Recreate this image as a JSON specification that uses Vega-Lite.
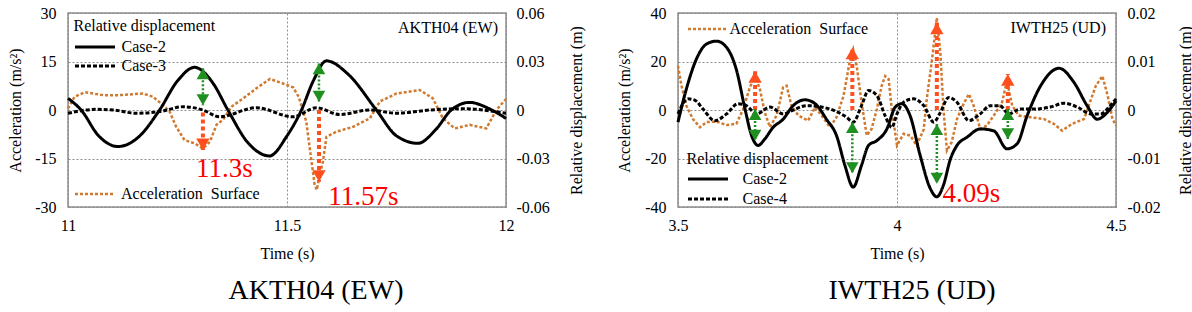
{
  "$schema": "https://vega.github.io/schema/vega-lite/v6.json",
  "padding": {"left": 6, "top": 4, "right": 2, "bottom": 2},
  "datasets": {
    "accL": [
      {"t":11.000,"acc":0.5},{"t":11.015,"acc":4.1},{"t":11.038,"acc":5.5},{"t":11.080,"acc":4.6},{"t":11.118,"acc":4.6},{"t":11.171,"acc":5.1},{"t":11.194,"acc":4.1},{"t":11.217,"acc":1.5},{"t":11.232,"acc":-0.5},{"t":11.247,"acc":-5.2},{"t":11.266,"acc":-9.3},{"t":11.289,"acc":-10.3},{"t":11.308,"acc":-11.9},{"t":11.324,"acc":-9.8},{"t":11.339,"acc":-4.6},{"t":11.354,"acc":-3.0},{"t":11.373,"acc":1.0},{"t":11.400,"acc":3.6},{"t":11.430,"acc":6.7},{"t":11.461,"acc":9.6},{"t":11.491,"acc":8.2},{"t":11.514,"acc":7.0},{"t":11.527,"acc":4.0},{"t":11.537,"acc":-0.5},{"t":11.544,"acc":-3.6},{"t":11.552,"acc":-11.9},{"t":11.563,"acc":-23.0},{"t":11.568,"acc":-24.7},{"t":11.575,"acc":-20.0},{"t":11.582,"acc":-16.0},{"t":11.590,"acc":-8.3},{"t":11.613,"acc":-6.7},{"t":11.651,"acc":-5.2},{"t":11.689,"acc":-2.6},{"t":11.712,"acc":2.6},{"t":11.750,"acc":5.1},{"t":11.803,"acc":6.2},{"t":11.833,"acc":3.6},{"t":11.856,"acc":-2.6},{"t":11.883,"acc":-5.7},{"t":11.917,"acc":-4.6},{"t":11.955,"acc":-5.7},{"t":11.978,"acc":0.0},{"t":12.000,"acc":3.4}
    ],
    "dispL": [
      {"t":11.000,"d":0.0072,"case":"Case-2"},{"t":11.030,"d":0.0,"case":"Case-2"},{"t":11.070,"d":-0.016,"case":"Case-2"},{"t":11.114,"d":-0.0226,"case":"Case-2"},{"t":11.160,"d":-0.017,"case":"Case-2"},{"t":11.209,"d":0.0,"case":"Case-2"},{"t":11.250,"d":0.018,"case":"Case-2"},{"t":11.289,"d":0.0264,"case":"Case-2"},{"t":11.330,"d":0.017,"case":"Case-2"},{"t":11.365,"d":0.0,"case":"Case-2"},{"t":11.410,"d":-0.020,"case":"Case-2"},{"t":11.460,"d":-0.0284,"case":"Case-2"},{"t":11.500,"d":-0.016,"case":"Case-2"},{"t":11.533,"d":0.0,"case":"Case-2"},{"t":11.560,"d":0.018,"case":"Case-2"},{"t":11.590,"d":0.0304,"case":"Case-2"},{"t":11.640,"d":0.022,"case":"Case-2"},{"t":11.704,"d":0.0,"case":"Case-2"},{"t":11.750,"d":-0.016,"case":"Case-2"},{"t":11.799,"d":-0.0206,"case":"Case-2"},{"t":11.840,"d":-0.012,"case":"Case-2"},{"t":11.875,"d":0.0,"case":"Case-2"},{"t":11.917,"d":0.0047,"case":"Case-2"},{"t":11.960,"d":0.001,"case":"Case-2"},{"t":12.000,"d":-0.0052,"case":"Case-2"},
      {"t":11.000,"d":-0.002,"case":"Case-3"},{"t":11.065,"d":0.0004,"case":"Case-3"},{"t":11.103,"d":0.0,"case":"Case-3"},{"t":11.155,"d":-0.002,"case":"Case-3"},{"t":11.209,"d":-0.001,"case":"Case-3"},{"t":11.263,"d":0.002,"case":"Case-3"},{"t":11.308,"d":0.0,"case":"Case-3"},{"t":11.346,"d":-0.0042,"case":"Case-3"},{"t":11.430,"d":0.0014,"case":"Case-3"},{"t":11.514,"d":-0.0042,"case":"Case-3"},{"t":11.567,"d":0.0014,"case":"Case-3"},{"t":11.620,"d":-0.0028,"case":"Case-3"},{"t":11.689,"d":0.0,"case":"Case-3"},{"t":11.750,"d":-0.002,"case":"Case-3"},{"t":11.826,"d":0.0,"case":"Case-3"},{"t":11.902,"d":0.0008,"case":"Case-3"},{"t":12.000,"d":-0.002,"case":"Case-3"}
    ],
    "redL": [{"t":11.308,"from":-0.8,"to":-12.4},{"t":11.573,"from":0.0,"to":-22.2}],
    "greenL": [{"t":11.308,"hi":0.0258,"lo":0.003},{"t":11.573,"hi":0.0288,"lo":0.0052}],
    "annL": [{"t":11.292,"acc":-20.6,"label":"11.3s"},{"t":11.594,"acc":-29.4,"label":"11.57s"}],
    "accR": [
      {"t":3.500,"acc":18.2},{"t":3.508,"acc":10},{"t":3.519,"acc":1.8},{"t":3.534,"acc":-3.7},{"t":3.550,"acc":-7.1},{"t":3.565,"acc":-5},{"t":3.588,"acc":-4.8},{"t":3.611,"acc":-6.2},{"t":3.633,"acc":-5.7},{"t":3.649,"acc":0.4},{"t":3.664,"acc":9.3},{"t":3.676,"acc":14},{"t":3.687,"acc":8.6},{"t":3.698,"acc":-0.9},{"t":3.710,"acc":-7.1},{"t":3.725,"acc":-2.3},{"t":3.740,"acc":9.3},{"t":3.748,"acc":10},{"t":3.759,"acc":1.8},{"t":3.775,"acc":-2.3},{"t":3.797,"acc":-4.4},{"t":3.813,"acc":1.1},{"t":3.828,"acc":-2.3},{"t":3.847,"acc":-7.1},{"t":3.862,"acc":-3},{"t":3.878,"acc":5.9},{"t":3.893,"acc":20.9},{"t":3.900,"acc":25},{"t":3.908,"acc":18.2},{"t":3.919,"acc":3.2},{"t":3.931,"acc":-10.5},{"t":3.942,"acc":-7.8},{"t":3.954,"acc":0.4},{"t":3.965,"acc":10},{"t":3.973,"acc":14},{"t":3.981,"acc":12.7},{"t":3.988,"acc":0.4},{"t":4.000,"acc":-14.6},{"t":4.015,"acc":-9.8},{"t":4.030,"acc":-10.5},{"t":4.045,"acc":-14.6},{"t":4.061,"acc":-8},{"t":4.068,"acc":4.5},{"t":4.080,"acc":20.9},{"t":4.091,"acc":38},{"t":4.099,"acc":23.7},{"t":4.106,"acc":0.4},{"t":4.114,"acc":-16.7},{"t":4.125,"acc":-13.2},{"t":4.137,"acc":-3.7},{"t":4.152,"acc":2.5},{"t":4.164,"acc":6.6},{"t":4.175,"acc":1.8},{"t":4.190,"acc":-7.8},{"t":4.205,"acc":-6.4},{"t":4.221,"acc":-2.3},{"t":4.240,"acc":3.2},{"t":4.251,"acc":12},{"t":4.263,"acc":1.8},{"t":4.278,"acc":-2.3},{"t":4.305,"acc":-3},{"t":4.335,"acc":-3.7},{"t":4.358,"acc":-5.7},{"t":4.377,"acc":-8.5},{"t":4.400,"acc":-5.7},{"t":4.427,"acc":-3.7},{"t":4.454,"acc":10},{"t":4.469,"acc":14},{"t":4.481,"acc":5.9},{"t":4.492,"acc":-3.7},{"t":4.500,"acc":-6.4}
    ],
    "dispR": [
      {"t":3.500,"d":-0.0025,"case":"Case-2"},{"t":3.519,"d":0.0043,"case":"Case-2"},{"t":3.542,"d":0.0105,"case":"Case-2"},{"t":3.565,"d":0.0136,"case":"Case-2"},{"t":3.588,"d":0.0142,"case":"Case-2"},{"t":3.611,"d":0.0129,"case":"Case-2"},{"t":3.633,"d":0.0084,"case":"Case-2"},{"t":3.653,"d":0.0002,"case":"Case-2"},{"t":3.668,"d":-0.0053,"case":"Case-2"},{"t":3.683,"d":-0.0073,"case":"Case-2"},{"t":3.698,"d":-0.006,"case":"Case-2"},{"t":3.717,"d":-0.0036,"case":"Case-2"},{"t":3.740,"d":-0.0019,"case":"Case-2"},{"t":3.763,"d":0.0009,"case":"Case-2"},{"t":3.790,"d":0.0021,"case":"Case-2"},{"t":3.813,"d":0.0013,"case":"Case-2"},{"t":3.839,"d":-0.0019,"case":"Case-2"},{"t":3.862,"d":-0.0053,"case":"Case-2"},{"t":3.881,"d":-0.0114,"case":"Case-2"},{"t":3.900,"d":-0.0159,"case":"Case-2"},{"t":3.919,"d":-0.0114,"case":"Case-2"},{"t":3.935,"d":-0.0073,"case":"Case-2"},{"t":3.954,"d":-0.0063,"case":"Case-2"},{"t":3.977,"d":-0.0039,"case":"Case-2"},{"t":3.996,"d":0.0006,"case":"Case-2"},{"t":4.011,"d":0.0013,"case":"Case-2"},{"t":4.030,"d":-0.0012,"case":"Case-2"},{"t":4.053,"d":-0.0094,"case":"Case-2"},{"t":4.076,"d":-0.0162,"case":"Case-2"},{"t":4.091,"d":-0.0179,"case":"Case-2"},{"t":4.106,"d":-0.0155,"case":"Case-2"},{"t":4.122,"d":-0.0101,"case":"Case-2"},{"t":4.137,"d":-0.0073,"case":"Case-2"},{"t":4.160,"d":-0.0056,"case":"Case-2"},{"t":4.190,"d":-0.0039,"case":"Case-2"},{"t":4.221,"d":-0.0043,"case":"Case-2"},{"t":4.251,"d":-0.008,"case":"Case-2"},{"t":4.274,"d":-0.007,"case":"Case-2"},{"t":4.297,"d":-0.0012,"case":"Case-2"},{"t":4.328,"d":0.005,"case":"Case-2"},{"t":4.370,"d":0.0086,"case":"Case-2"},{"t":4.404,"d":0.0057,"case":"Case-2"},{"t":4.434,"d":0.0009,"case":"Case-2"},{"t":4.457,"d":-0.0019,"case":"Case-2"},{"t":4.480,"d":-0.0005,"case":"Case-2"},{"t":4.500,"d":0.0019,"case":"Case-2"},
      {"t":3.500,"d":-0.0008,"case":"Case-4"},{"t":3.523,"d":0.0023,"case":"Case-4"},{"t":3.539,"d":0.002,"case":"Case-4"},{"t":3.557,"d":0.0002,"case":"Case-4"},{"t":3.584,"d":-0.0022,"case":"Case-4"},{"t":3.611,"d":-0.0008,"case":"Case-4"},{"t":3.637,"d":0.0013,"case":"Case-4"},{"t":3.656,"d":0.0009,"case":"Case-4"},{"t":3.679,"d":-0.0008,"case":"Case-4"},{"t":3.710,"d":0.0006,"case":"Case-4"},{"t":3.740,"d":-0.0008,"case":"Case-4"},{"t":3.763,"d":0.0,"case":"Case-4"},{"t":3.794,"d":0.0009,"case":"Case-4"},{"t":3.847,"d":0.0002,"case":"Case-4"},{"t":3.885,"d":-0.0015,"case":"Case-4"},{"t":3.900,"d":-0.0025,"case":"Case-4"},{"t":3.919,"d":0.0009,"case":"Case-4"},{"t":3.935,"d":0.004,"case":"Case-4"},{"t":3.954,"d":0.003,"case":"Case-4"},{"t":3.973,"d":-0.0012,"case":"Case-4"},{"t":3.988,"d":-0.0036,"case":"Case-4"},{"t":4.000,"d":-0.0008,"case":"Case-4"},{"t":4.015,"d":0.0016,"case":"Case-4"},{"t":4.038,"d":0.0023,"case":"Case-4"},{"t":4.061,"d":0.0009,"case":"Case-4"},{"t":4.084,"d":-0.0025,"case":"Case-4"},{"t":4.099,"d":-0.0005,"case":"Case-4"},{"t":4.118,"d":0.0026,"case":"Case-4"},{"t":4.137,"d":0.0016,"case":"Case-4"},{"t":4.164,"d":-0.0022,"case":"Case-4"},{"t":4.190,"d":-0.0008,"case":"Case-4"},{"t":4.213,"d":0.0009,"case":"Case-4"},{"t":4.235,"d":0.0009,"case":"Case-4"},{"t":4.255,"d":-0.0008,"case":"Case-4"},{"t":4.282,"d":0.0002,"case":"Case-4"},{"t":4.312,"d":0.0002,"case":"Case-4"},{"t":4.350,"d":0.0006,"case":"Case-4"},{"t":4.381,"d":0.0014,"case":"Case-4"},{"t":4.412,"d":0.0006,"case":"Case-4"},{"t":4.442,"d":-0.0008,"case":"Case-4"},{"t":4.465,"d":-0.0008,"case":"Case-4"},{"t":4.487,"d":0.0009,"case":"Case-4"},{"t":4.500,"d":0.0023,"case":"Case-4"}
    ],
    "redR": [{"t":3.676,"from":0,"to":16},{"t":3.898,"from":0,"to":25.7},{"t":4.091,"from":0,"to":36},{"t":4.253,"from":0,"to":14.8}],
    "greenR": [{"t":3.676,"hi":0.0002,"lo":-0.0063},{"t":3.898,"hi":-0.0025,"lo":-0.013},{"t":4.091,"hi":-0.0029,"lo":-0.0152},{"t":4.253,"hi":0.0002,"lo":-0.006}],
    "annR": [{"t":4.104,"acc":-37.8,"label":"4.09s"}],
    "one": [{}]
  },
  "hconcat": [
    {
      "width": 438, "height": 194,
      "title": {"text": "AKTH04 (EW)", "orient": "bottom", "anchor": "middle", "frame": "group", "dx": 29, "offset": 16, "fontSize": 28, "fontWeight": "normal", "font": "Liberation Serif", "color": "black"},
      "layer": [
        {
          "layer": [
            {
              "data": {"name": "accL"},
              "mark": {"type": "line", "strokeDash": [3, 2], "strokeWidth": 2.5},
              "encoding": {
                "x": {"field": "t", "type": "quantitative", "scale": {"domain": [11, 12], "nice": false, "zero": false}, "axis": {"values": [11, 11.5, 12], "format": "~g", "title": "Time (s)", "grid": true, "labelPadding": 10, "titlePadding": 12}},
                "y": {"field": "acc", "type": "quantitative", "scale": {"domain": [-30, 30], "nice": false}, "axis": {"orient": "left", "values": [-30, -15, 0, 15, 30], "format": "d", "title": "Acceleration (m/s²)", "grid": true, "labelPadding": 12, "titlePadding": 11}},
                "color": {"datum": "Acceleration\u00a0 Surface", "type": "nominal", "scale": {"range": ["#d07a30"]}, "legend": {"orient": "none", "legendX": 5.5, "legendY": 171.5, "title": null, "symbolType": "stroke", "symbolSize": 1600, "symbolStrokeWidth": 2.5, "symbolDash": [3, 2], "clipHeight": 19, "labelOffset": 4.5, "padding": 0}}
              }
            },
            {
              "data": {"name": "redL"},
              "mark": {"type": "rule", "strokeDash": [4, 3], "strokeWidth": 4, "color": "#ff4f1f"},
              "encoding": {
                "x": {"field": "t", "type": "quantitative", "scale": {"domain": [11, 12], "nice": false, "zero": false}},
                "y": {"field": "from", "type": "quantitative", "scale": {"domain": [-30, 30], "nice": false}},
                "y2": {"field": "to"}
              }
            },
            {
              "data": {"name": "redL"},
              "mark": {"type": "point", "shape": "triangle-down", "filled": true, "size": 180, "color": "#ff4f1f", "opacity": 1, "yOffset": -5.8},
              "encoding": {
                "x": {"field": "t", "type": "quantitative", "scale": {"domain": [11, 12], "nice": false, "zero": false}},
                "y": {"field": "to", "type": "quantitative", "scale": {"domain": [-30, 30], "nice": false}}
              }
            },
            {
              "data": {"name": "annL"},
              "mark": {"type": "text", "font": "Liberation Serif", "fontSize": 27, "color": "#ff0000", "align": "left", "baseline": "alphabetic"},
              "encoding": {
                "x": {"field": "t", "type": "quantitative", "scale": {"domain": [11, 12], "nice": false, "zero": false}},
                "y": {"field": "acc", "type": "quantitative", "scale": {"domain": [-30, 30], "nice": false}},
                "text": {"field": "label"}
              }
            },
            {
              "data": {"name": "one"},
              "mark": {"type": "text", "font": "Liberation Serif", "fontSize": 16, "color": "black", "align": "right", "baseline": "alphabetic", "dx": -8, "dy": 20},
              "encoding": {
                "x": {"datum": 12, "type": "quantitative", "scale": {"domain": [11, 12], "nice": false, "zero": false}},
                "y": {"datum": 30, "type": "quantitative", "scale": {"domain": [-30, 30], "nice": false}},
                "text": {"value": "AKTH04 (EW)"}
              }
            }
          ]
        },
        {
          "layer": [
            {
              "data": {"name": "dispL"},
              "mark": {"type": "line", "color": "black", "strokeWidth": 3, "interpolate": "monotone"},
              "encoding": {
                "x": {"field": "t", "type": "quantitative", "scale": {"domain": [11, 12], "nice": false, "zero": false}},
                "y": {"field": "d", "type": "quantitative", "scale": {"domain": [-0.06, 0.06], "nice": false}, "axis": {"orient": "right", "values": [-0.06, -0.03, 0, 0.03, 0.06], "format": "~g", "title": "Relative displacement (m)", "grid": false, "labelPadding": 10, "titlePadding": 19, "titleAngle": -90, "titleBaseline": "top"}},
                "strokeDash": {"field": "case", "type": "nominal", "scale": {"domain": ["Case-2", "Case-3"], "range": [[1, 0], [4, 2]]}, "legend": {"orient": "none", "legendX": 5.5, "legendY": 5, "title": "Relative displacement", "symbolType": "stroke", "symbolSize": 1600, "symbolStrokeWidth": 3, "symbolStrokeColor": "black", "clipHeight": 19, "labelOffset": 5, "rowPadding": 0, "titlePadding": 3.5, "padding": 0}}
              }
            },
            {
              "data": {"name": "greenL"},
              "mark": {"type": "rule", "strokeDash": [2, 2], "strokeWidth": 2.5, "color": "#1f8f1f"},
              "encoding": {
                "x": {"field": "t", "type": "quantitative", "scale": {"domain": [11, 12], "nice": false, "zero": false}},
                "y": {"field": "hi", "type": "quantitative", "scale": {"domain": [-0.06, 0.06], "nice": false}},
                "y2": {"field": "lo"}
              }
            },
            {
              "data": {"name": "greenL"},
              "mark": {"type": "point", "shape": "triangle-up", "filled": true, "size": 160, "color": "#1f8f1f", "opacity": 1, "yOffset": 5.4},
              "encoding": {
                "x": {"field": "t", "type": "quantitative", "scale": {"domain": [11, 12], "nice": false, "zero": false}},
                "y": {"field": "hi", "type": "quantitative", "scale": {"domain": [-0.06, 0.06], "nice": false}}
              }
            },
            {
              "data": {"name": "greenL"},
              "mark": {"type": "point", "shape": "triangle-down", "filled": true, "size": 160, "color": "#1f8f1f", "opacity": 1, "yOffset": -5.4},
              "encoding": {
                "x": {"field": "t", "type": "quantitative", "scale": {"domain": [11, 12], "nice": false, "zero": false}},
                "y": {"field": "lo", "type": "quantitative", "scale": {"domain": [-0.06, 0.06], "nice": false}}
              }
            }
          ]
        }
      ],
      "resolve": {"scale": {"y": "independent"}}
    },
    {
      "width": 438, "height": 194,
      "title": {"text": "IWTH25 (UD)", "orient": "bottom", "anchor": "middle", "frame": "group", "dx": 15, "offset": 16, "fontSize": 28, "fontWeight": "normal", "font": "Liberation Serif", "color": "black"},
      "layer": [
        {
          "layer": [
            {
              "data": {"name": "accR"},
              "mark": {"type": "line", "strokeDash": [3, 2], "strokeWidth": 2.5},
              "encoding": {
                "x": {"field": "t", "type": "quantitative", "scale": {"domain": [3.5, 4.5], "nice": false, "zero": false}, "axis": {"values": [3.5, 4, 4.5], "format": "~g", "title": "Time (s)", "grid": true, "labelPadding": 10, "titlePadding": 12}},
                "y": {"field": "acc", "type": "quantitative", "scale": {"domain": [-40, 40], "nice": false}, "axis": {"orient": "left", "values": [-40, -20, 0, 20, 40], "format": "d", "title": "Acceleration (m/s²)", "grid": true, "labelPadding": 12, "titlePadding": 12}},
                "color": {"datum": "Acceleration\u00a0 Surface", "type": "nominal", "scale": {"range": ["#d07a30"]}, "legend": {"orient": "none", "legendX": 8.5, "legendY": 6.5, "title": null, "symbolType": "stroke", "symbolSize": 1600, "symbolStrokeWidth": 2.5, "symbolDash": [3, 2], "clipHeight": 19, "labelOffset": 0, "padding": 0}}
              }
            },
            {
              "data": {"name": "redR"},
              "mark": {"type": "rule", "strokeDash": [4, 3], "strokeWidth": 4, "color": "#ff4f1f"},
              "encoding": {
                "x": {"field": "t", "type": "quantitative", "scale": {"domain": [3.5, 4.5], "nice": false, "zero": false}},
                "y": {"field": "from", "type": "quantitative", "scale": {"domain": [-40, 40], "nice": false}},
                "y2": {"field": "to"}
              }
            },
            {
              "data": {"name": "redR"},
              "mark": {"type": "point", "shape": "triangle-up", "filled": true, "size": 180, "color": "#ff4f1f", "opacity": 1, "yOffset": 5.8},
              "encoding": {
                "x": {"field": "t", "type": "quantitative", "scale": {"domain": [3.5, 4.5], "nice": false, "zero": false}},
                "y": {"field": "to", "type": "quantitative", "scale": {"domain": [-40, 40], "nice": false}}
              }
            },
            {
              "data": {"name": "annR"},
              "mark": {"type": "text", "font": "Liberation Serif", "fontSize": 27, "color": "#ff0000", "align": "left", "baseline": "alphabetic"},
              "encoding": {
                "x": {"field": "t", "type": "quantitative", "scale": {"domain": [3.5, 4.5], "nice": false, "zero": false}},
                "y": {"field": "acc", "type": "quantitative", "scale": {"domain": [-40, 40], "nice": false}},
                "text": {"field": "label"}
              }
            },
            {
              "data": {"name": "one"},
              "mark": {"type": "text", "font": "Liberation Serif", "fontSize": 16, "color": "black", "align": "right", "baseline": "alphabetic", "dx": -10, "dy": 20},
              "encoding": {
                "x": {"datum": 4.5, "type": "quantitative", "scale": {"domain": [3.5, 4.5], "nice": false, "zero": false}},
                "y": {"datum": 40, "type": "quantitative", "scale": {"domain": [-40, 40], "nice": false}},
                "text": {"value": "IWTH25 (UD)"}
              }
            }
          ]
        },
        {
          "layer": [
            {
              "data": {"name": "dispR"},
              "mark": {"type": "line", "color": "black", "strokeWidth": 3, "interpolate": "monotone"},
              "encoding": {
                "x": {"field": "t", "type": "quantitative", "scale": {"domain": [3.5, 4.5], "nice": false, "zero": false}},
                "y": {"field": "d", "type": "quantitative", "scale": {"domain": [-0.02, 0.02], "nice": false}, "axis": {"orient": "right", "values": [-0.02, -0.01, 0, 0.01, 0.02], "format": "~g", "title": "Relative displacement (m)", "grid": false, "labelPadding": 11, "titlePadding": 17, "titleAngle": -90, "titleBaseline": "top"}},
                "strokeDash": {"field": "case", "type": "nominal", "scale": {"domain": ["Case-2", "Case-4"], "range": [[1, 0], [4, 2]]}, "legend": {"orient": "none", "legendX": 8.5, "legendY": 138, "title": "Relative displacement", "symbolType": "stroke", "symbolSize": 1600, "symbolStrokeWidth": 3, "symbolStrokeColor": "black", "clipHeight": 20, "labelOffset": 13, "rowPadding": 0, "titlePadding": 2, "padding": 0}}
              }
            },
            {
              "data": {"name": "greenR"},
              "mark": {"type": "rule", "strokeDash": [2, 2], "strokeWidth": 2.5, "color": "#1f8f1f"},
              "encoding": {
                "x": {"field": "t", "type": "quantitative", "scale": {"domain": [3.5, 4.5], "nice": false, "zero": false}},
                "y": {"field": "hi", "type": "quantitative", "scale": {"domain": [-0.02, 0.02], "nice": false}},
                "y2": {"field": "lo"}
              }
            },
            {
              "data": {"name": "greenR"},
              "mark": {"type": "point", "shape": "triangle-up", "filled": true, "size": 160, "color": "#1f8f1f", "opacity": 1, "yOffset": 5.4},
              "encoding": {
                "x": {"field": "t", "type": "quantitative", "scale": {"domain": [3.5, 4.5], "nice": false, "zero": false}},
                "y": {"field": "hi", "type": "quantitative", "scale": {"domain": [-0.02, 0.02], "nice": false}}
              }
            },
            {
              "data": {"name": "greenR"},
              "mark": {"type": "point", "shape": "triangle-down", "filled": true, "size": 160, "color": "#1f8f1f", "opacity": 1, "yOffset": -5.4},
              "encoding": {
                "x": {"field": "t", "type": "quantitative", "scale": {"domain": [3.5, 4.5], "nice": false, "zero": false}},
                "y": {"field": "lo", "type": "quantitative", "scale": {"domain": [-0.02, 0.02], "nice": false}}
              }
            }
          ]
        }
      ],
      "resolve": {"scale": {"y": "independent"}}
    }
  ],
  "spacing": 29,
  "resolve": {
    "scale": {"x": "independent", "y": "independent", "color": "independent", "strokeDash": "independent"},
    "legend": {"color": "independent", "strokeDash": "independent"}
  },
  "config": {
    "font": "Liberation Serif",
    "background": "white",
    "view": {"stroke": "#8c8c8c", "strokeWidth": 1.5},
    "axis": {
      "labelFont": "Liberation Serif", "labelFontSize": 16, "labelColor": "black", "labelFlush": false, "labelOverlap": false,
      "titleFont": "Liberation Serif", "titleFontSize": 16, "titleFontWeight": "normal", "titleColor": "black",
      "domain": false, "ticks": false,
      "gridColor": "#8c8c8c", "gridDash": [2, 2], "gridWidth": 1, "gridOpacity": 1
    },
    "legend": {
      "labelFont": "Liberation Serif", "labelFontSize": 16, "labelColor": "black", "labelLimit": 300,
      "titleFont": "Liberation Serif", "titleFontSize": 16, "titleFontWeight": "normal", "titleColor": "black", "titleLimit": 300
    },
    "locale": {"number": {"decimal": ".", "thousands": ",", "grouping": [3], "currency": ["$", ""], "minus": "-"}}
  }
}
